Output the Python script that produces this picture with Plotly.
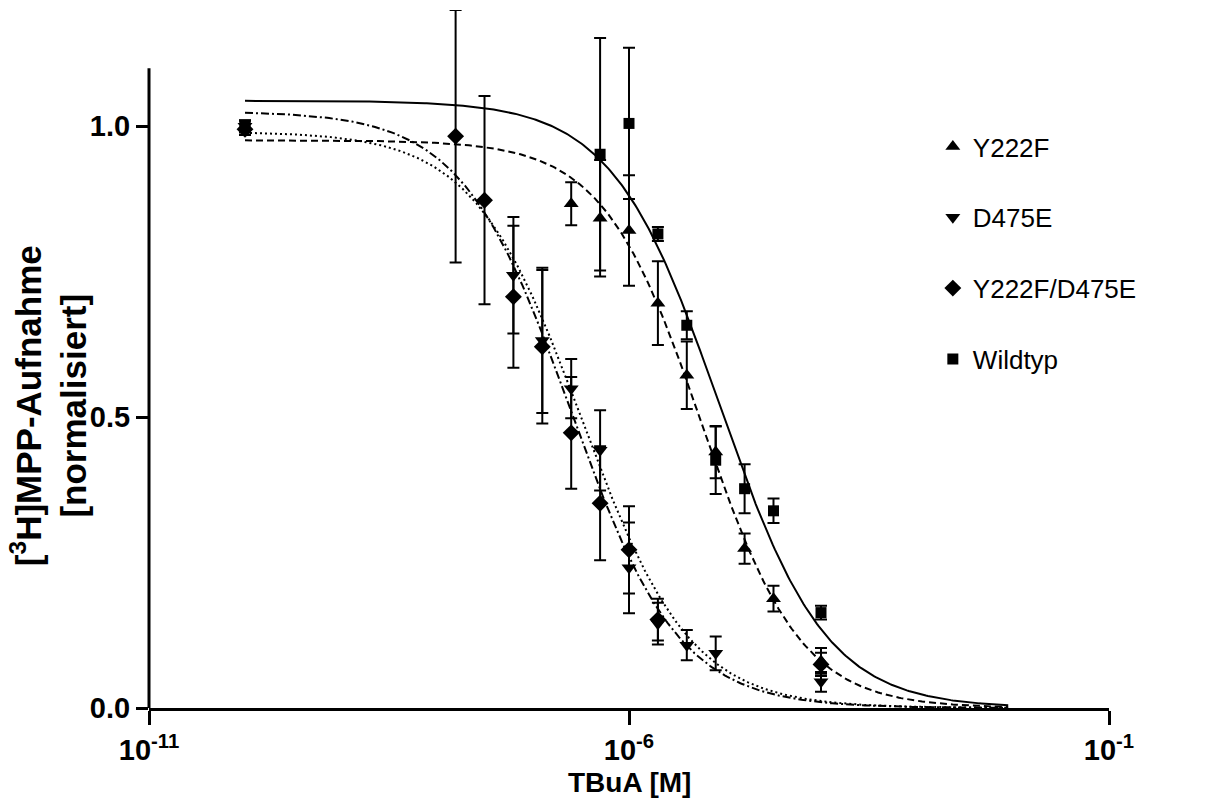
import numpy as np
import plotly.graph_objects as go

# ---- measured data (mean +/- SEM), normalised [3H]MPP uptake vs. TBuA concentration ----
series_names = ["Y222F", "D475E", "Y222F/D475E", "Wildtyp"]

y222f_x = [1e-10, 2.5e-7, 5e-7, 1e-6, 2e-6, 4e-6, 8e-6, 1.6e-5, 3.2e-5, 1e-4]
y222f_y = [1.0, 0.867, 0.842, 0.821, 0.696, 0.572, 0.440, 0.274, 0.188, 0.081]
y222f_err = [0.01, 0.037, 0.10, 0.095, 0.072, 0.058, 0.045, 0.026, 0.022, 0.022]

d475e_x = [1e-10, 6.25e-8, 1.25e-7, 2.5e-7, 5e-7, 1e-6, 2e-6, 4e-6, 8e-6, 1e-4]
d475e_y = [1.0, 0.744, 0.632, 0.549, 0.443, 0.241, 0.145, 0.108, 0.094, 0.045]
d475e_err = [0.01, 0.10, 0.125, 0.051, 0.069, 0.078, 0.036, 0.026, 0.029, 0.017]

double_x = [1e-10, 1.5625e-8, 3.125e-8, 6.25e-8, 1.25e-7, 2.5e-7, 5e-7, 1e-6, 2e-6, 1e-4]
double_y = [0.995, 0.983, 0.873, 0.707, 0.621, 0.473, 0.352, 0.272, 0.152, 0.075]
double_err = [0.01, 0.217, 0.179, 0.122, 0.132, 0.096, 0.098, 0.075, 0.036, 0.02]

wt_x = [1e-10, 5e-7, 1e-6, 2e-6, 4e-6, 8e-6, 1.6e-5, 3.2e-5, 1e-4]
wt_y = [1.0, 0.952, 1.005, 0.815, 0.658, 0.426, 0.377, 0.339, 0.164]
wt_err = [0.01, 0.20, 0.13, 0.012, 0.024, 0.058, 0.042, 0.021, 0.012]

# ---- four-parameter logistic fit results (Y222F, D475E, Y222F/D475E, Wildtyp) ----
fit_top = [0.976, 0.991, 1.026, 1.044]
fit_bottom = [0.0, 0.0, 0.0, 0.0]
fit_log_ic50 = [-5.24, -6.49, -6.61, -5.06]
fit_hill = [0.845, 0.77, 0.77, 0.78]
fit_log_range = [-10.0, -2.05]

# axis tick labels
x_tickvals = [1e-11, 1e-6, 1e-1]
x_ticktext = ["10<sup>-11</sup>", "10<sup>-6</sup>", "10<sup>-1</sup>"]
y_tickvals = [0.0, 0.5, 1.0]
y_ticktext = ["0.0", "0.5", "1.0"]

# ---- styling ----
symbols = ["triangle-up", "triangle-down", "diamond", "square"]
marker_sizes = [13, 13, 13, 11]
dashes = ["7px,4px", "2px,3px", "8px,3px,2px,3px", "solid"]
FONT = "Liberation Sans, Arial, sans-serif"
BLACK = "#000000"

xs = [y222f_x, d475e_x, double_x, wt_x]
ys = [y222f_y, d475e_y, double_y, wt_y]
errs = [y222f_err, d475e_err, double_err, wt_err]

fig = go.Figure()

# fitted curves
logx = np.linspace(fit_log_range[0], fit_log_range[1], 400)
for i in range(4):
    yfit = fit_bottom[i] + (fit_top[i] - fit_bottom[i]) / (
        1.0 + 10 ** ((logx - fit_log_ic50[i]) * fit_hill[i]))
    fig.add_trace(go.Scatter(
        x=10 ** logx, y=yfit, mode="lines",
        line=dict(color=BLACK, width=2, dash=dashes[i]),
        showlegend=False, hoverinfo="skip"))

# data points with error bars
for i in range(4):
    fig.add_trace(go.Scatter(
        x=xs[i], y=ys[i], mode="markers", name=series_names[i],
        legendgroup=series_names[i],
        marker=dict(symbol=symbols[i], size=marker_sizes[i], color=BLACK,
                    line=dict(width=0)),
        error_y=dict(type="data", array=errs[i], visible=True,
                     color=BLACK, thickness=2, width=6),
        cliponaxis=False))

Y_TOP = 1.2
fig.update_layout(
    width=1214, height=804,
    margin=dict(l=148.5, r=104.5, t=9.6, b=96, pad=0),
    paper_bgcolor="white", plot_bgcolor="white",
    font=dict(family=FONT, color=BLACK),
    xaxis=dict(
        type="log", range=[-11, -1],
        tickvals=x_tickvals, ticktext=x_ticktext,
        showgrid=False, zeroline=False,
        showline=True, linecolor=BLACK, linewidth=3,
        ticks="outside", ticklen=14, tickwidth=3, tickcolor=BLACK,
        tickfont=dict(family=FONT, size=29, color=BLACK, weight="bold"),
    ),
    yaxis=dict(
        range=[0, Y_TOP],
        tickvals=y_tickvals, ticktext=y_ticktext,
        showgrid=False, zeroline=False, showline=False,
        ticks="outside", ticklen=12, tickwidth=3, tickcolor=BLACK,
        tickfont=dict(family=FONT, size=29, color=BLACK, weight="bold"),
    ),
    legend=dict(
        x=0.8165, y=0.838, xanchor="left", yanchor="top",
        font=dict(family=FONT, size=26, color=BLACK),
        tracegroupgap=34, bgcolor="rgba(0,0,0,0)",
    ),
    showlegend=True,
)

# left axis line stops at 1.1
fig.add_shape(type="line", xref="paper", yref="y", x0=0, x1=0, y0=0, y1=1.1,
              line=dict(color=BLACK, width=3))

# axis titles
fig.add_annotation(
    text="<b>[<sup>3</sup>H]MPP-Aufnahme<br>[normalisiert]</b>",
    xref="paper", yref="y", x=(48 - 148.5) / 961, y=0.52,
    xanchor="center", yanchor="middle", textangle=-90, showarrow=False,
    font=dict(family=FONT, size=35, color=BLACK))
fig.add_annotation(
    text="<b>TBuA [M]</b>", xref="paper", yref="paper",
    x=0.5, y=(708 - 783) / (708 - 9.6), xanchor="center", yanchor="middle",
    showarrow=False, font=dict(family=FONT, size=28, color=BLACK))

fig.write_html("out.html")
